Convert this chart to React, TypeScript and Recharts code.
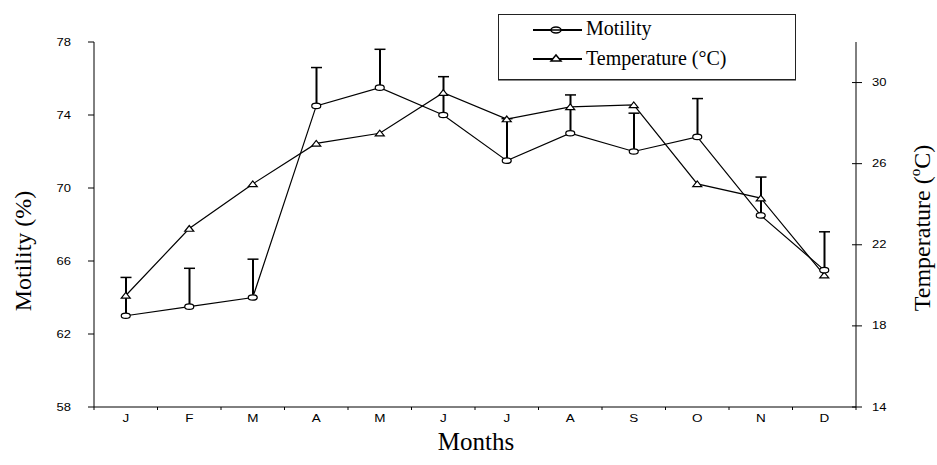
import React from 'react';
import { ComposedChart, Line, Bar, XAxis, YAxis } from 'recharts';

const months = ['J', 'F', 'M', 'A', 'M', 'J', 'J', 'A', 'S', 'O', 'N', 'D'];
const motility = [63, 63.5, 64, 74.5, 75.5, 74, 71.5, 73, 72, 72.8, 68.5, 65.5];
const motilityUpper = [65.1, 65.6, 66.1, 76.6, 77.6, 76.1, 73.8, 75.1, 74.1, 74.9, 70.6, 67.6];
const temperature = [19.5, 22.8, 25, 27, 27.5, 29.5, 28.2, 28.8, 28.9, 25, 24.3, 20.5];
const motilityTicks = [58, 62, 66, 70, 74, 78];
const temperatureTicks = [14, 18, 22, 26, 30];

const data = months.map((m, i) => ({
  month: m,
  motility: motility[i],
  temperature: temperature[i],
  errRange: [motility[i], motilityUpper[i]],
}));

const TICK_FONT = '"Liberation Sans", Arial, sans-serif';
const TITLE_FONT = '"Liberation Serif", "Times New Roman", serif';

const LeftTick = ({ x, y, payload }: any) => (
  <text transform={`translate(${x},${y + 3.5}) scale(1.3,1)`} textAnchor="end" fontSize={10} fontFamily={TICK_FONT} fill="#000">
    {payload.value}
  </text>
);

const RightTick = ({ x, y, payload }: any) => (
  <g>
    <line x1={x - 20} x2={x - 10} y1={y} y2={y} stroke="#000" />
    <text transform={`translate(${x},${y + 3.5}) scale(1.3,1)`} textAnchor="start" fontSize={10} fontFamily={TICK_FONT} fill="#000">
      {payload.value}
    </text>
  </g>
);

const BottomTick = ({ x, y, payload, index, visibleTicksCount, width }: any) => {
  const count = visibleTicksCount || 12;
  const bw = (width || 762) / count;
  const axisY = y - 8;
  return (
    <g>
      <line x1={x - bw / 2} x2={x - bw / 2} y1={axisY} y2={axisY + 3} stroke="#000" />
      {index === count - 1 && <line x1={x + bw / 2} x2={x + bw / 2} y1={axisY} y2={axisY + 3} stroke="#000" />}
      <text transform={`translate(${x},${y + 6.5}) scale(1.35,1)`} textAnchor="middle" fontSize={10} fontFamily={TICK_FONT} fill="#000">
        {payload.value}
      </text>
    </g>
  );
};

const CircleDot = ({ cx, cy, index }: any) => (
  <ellipse key={`c-${index}`} cx={cx} cy={cy} rx={4.5} ry={2.7} fill="#fff" stroke="#000" strokeWidth={1.2} />
);

const TriangleDot = ({ cx, cy, index }: any) => (
  <polygon key={`t-${index}`} points={`${cx - 4.5},${cy + 2.7} ${cx + 4.5},${cy + 2.7} ${cx},${cy - 3}`} fill="#fff" stroke="#000" strokeWidth={1.2} />
);

// upper error bar only: vertical stem plus a cap
const ErrorShape = ({ x, y, width, height }: any) => {
  const cx = x + width / 2;
  return (
    <g>
      <line x1={cx} x2={cx} y1={y} y2={y + height} stroke="#000" strokeWidth={2} />
      <line x1={cx - 5.5} x2={cx + 5.5} y1={y} y2={y} stroke="#000" strokeWidth={1.5} />
    </g>
  );
};

const Legend = () => (
  <div
    style={{
      position: 'absolute',
      left: 498,
      top: 14,
      width: 296,
      height: 64,
      border: '1px solid #222',
      boxShadow: '0 1px 0 #888',
      background: '#fff',
    }}
  >
    <svg width={296} height={64}>
      <line x1={34} x2={83} y1={15} y2={15} stroke="#000" strokeWidth={2} />
      <ellipse cx={57} cy={15} rx={5} ry={3} fill="#fff" stroke="#000" strokeWidth={1.5} />
      <line x1={52} x2={62} y1={15} y2={15} stroke="#000" strokeWidth={1.5} />
      <text x={87} y={20} fontSize={20} fontFamily={TITLE_FONT} fill="#000">Motility</text>
      <line x1={34} x2={83} y1={44} y2={44} stroke="#000" strokeWidth={2} />
      <polygon points="52,46 62,46 57,40" fill="#fff" stroke="#000" strokeWidth={1.5} />
      <text x={87} y={50} fontSize={20} fontFamily={TITLE_FONT} fill="#000">Temperature (°C)</text>
    </svg>
  </div>
);

export default function App() {
  return (
    <div style={{ position: 'absolute', left: 0, top: 0, width: 937, height: 465, background: '#fff' }}>
      <ComposedChart width={937} height={465} data={data} margin={{ top: 42, right: 0, bottom: 0, left: 0 }}>
        <XAxis
          dataKey="month"
          height={58}
          axisLine={{ stroke: '#000' }}
          tickLine={false}
          tickSize={0}
          tickMargin={8}
          interval={0}
          tick={<BottomTick />}
          label={{
            content: () => (
              <text x={476} y={450} textAnchor="middle" fontSize={25} fontFamily={TITLE_FONT} fill="#000">
                Months
              </text>
            ),
          }}
        />
        <YAxis
          yAxisId="left"
          orientation="left"
          width={94}
          domain={[58, 78]}
          ticks={motilityTicks}
          axisLine={{ stroke: '#000' }}
          tickLine={{ stroke: '#000' }}
          tickSize={6}
          tickMargin={17}
          tick={<LeftTick />}
          label={{
            content: () => (
              <text x={23} y={251} transform="rotate(-90 23 251)" textAnchor="middle" dominantBaseline="central" fontSize={24} fontFamily={TITLE_FONT} fill="#000">
                Motility (%)
              </text>
            ),
          }}
        />
        <YAxis
          yAxisId="right"
          orientation="right"
          width={81}
          domain={[14, 32]}
          ticks={temperatureTicks}
          axisLine={{ stroke: '#000' }}
          tickLine={false}
          tickSize={6}
          tickMargin={10}
          tick={<RightTick />}
          label={{
            content: () => (
              <text x={922} y={228} transform="rotate(-90 922 228)" textAnchor="middle" dominantBaseline="central" fontSize={24} fontFamily={TITLE_FONT} fill="#000">
                Temperature (<tspan fontSize={15} dy={-7}>o</tspan><tspan dy={7}>C)</tspan>
              </text>
            ),
          }}
        />
        <Bar yAxisId="left" dataKey="errRange" barSize={12} shape={<ErrorShape />} isAnimationActive={false} />
        <Line
          yAxisId="right"
          dataKey="temperature"
          type="linear"
          stroke="#000"
          strokeWidth={1.2}
          dot={TriangleDot}
          activeDot={false}
          isAnimationActive={false}
        />
        <Line
          yAxisId="left"
          dataKey="motility"
          type="linear"
          stroke="#000"
          strokeWidth={1.2}
          dot={CircleDot}
          activeDot={false}
          isAnimationActive={false}
        />
      </ComposedChart>
      <Legend />
    </div>
  );
}
